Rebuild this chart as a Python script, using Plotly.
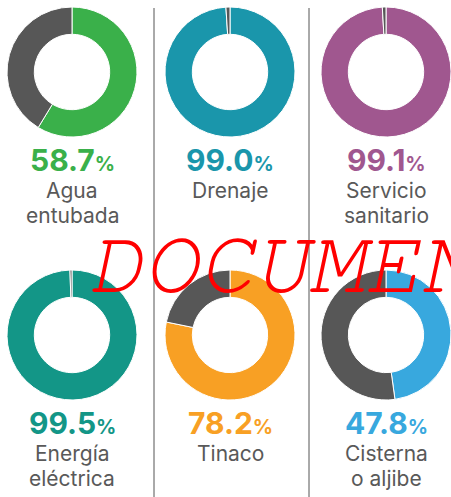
import plotly.graph_objects as go

categories = [["Agua", "entubada"], ["Drenaje"], ["Servicio", "sanitario"],
              ["Energía", "eléctrica"], ["Tinaco"], ["Cisterna", "o aljibe"]]
values = [58.7, 99.0, 99.1, 99.5, 78.2, 47.8]
colors = ["#3AB04A", "#1A96AB", "#A0578F", "#139687", "#F8A024", "#38A8DE"]
rest_color = "#575757"

W, H = 451, 497
col_cx = [72, 230, 386]
row_cy = [72, 335]
R = 65
FONT = "Inter, Open Sans, sans-serif"

fig = go.Figure()
annotations = []
for i, (cat, v, c) in enumerate(zip(categories, values, colors)):
    cx = col_cx[i % 3]
    cy = row_cy[i // 3]
    x0, x1 = max(cx - R, 0), min(cx + R, W)
    fig.add_trace(go.Pie(
        values=[v, round(100 - v, 1)],
        marker=dict(colors=[c, rest_color], line=dict(color="white", width=1)),
        hole=0.58, sort=False, direction="clockwise", rotation=0,
        textinfo="none", hoverinfo="skip", showlegend=False,
        domain=dict(x=[x0 / W, x1 / W], y=[1 - (cy + R) / H, 1 - (cy - R) / H]),
    ))
    annotations.append(dict(
        x=cx / W, y=1 - (cy + 88) / H, xref="paper", yref="paper",
        text=f"<b>{v:.1f}</b><span style='font-size:20px'><b>%</b></span>",
        showarrow=False, xanchor="center", yanchor="middle",
        font=dict(family=FONT, size=30, color=c),
    ))
    for j, line in enumerate(cat):
        annotations.append(dict(
            x=cx / W, y=1 - (cy + 118 + 25 * j) / H, xref="paper", yref="paper",
            text=line, showarrow=False, xanchor="center", yanchor="middle",
            font=dict(family=FONT, size=21, color="#595959"),
        ))

annotations.append(dict(
    x=86 / W, y=1 - 264 / H, xref="paper", yref="paper",
    text="<i>DOCUMENTO</i>", showarrow=False, xanchor="left", yanchor="middle",
    font=dict(family="FreeMono, Nimbus Mono PS, Courier New, Courier, Liberation Mono",
              size=92, color="#FF0000"),
))

shapes = [dict(type="line", xref="paper", yref="paper",
               x0=x / W, x1=x / W, y0=0, y1=1 - 8 / H,
               line=dict(color="#555555", width=1)) for x in (154, 309)]

fig.update_layout(width=W, height=H, margin=dict(l=0, r=0, t=0, b=0),
                  paper_bgcolor="white", plot_bgcolor="white",
                  annotations=annotations, shapes=shapes)
fig.write_html("out.html", config={"displayModeBar": False},
               post_script="document.body.style.margin='0';document.body.style.overflow='hidden';")
